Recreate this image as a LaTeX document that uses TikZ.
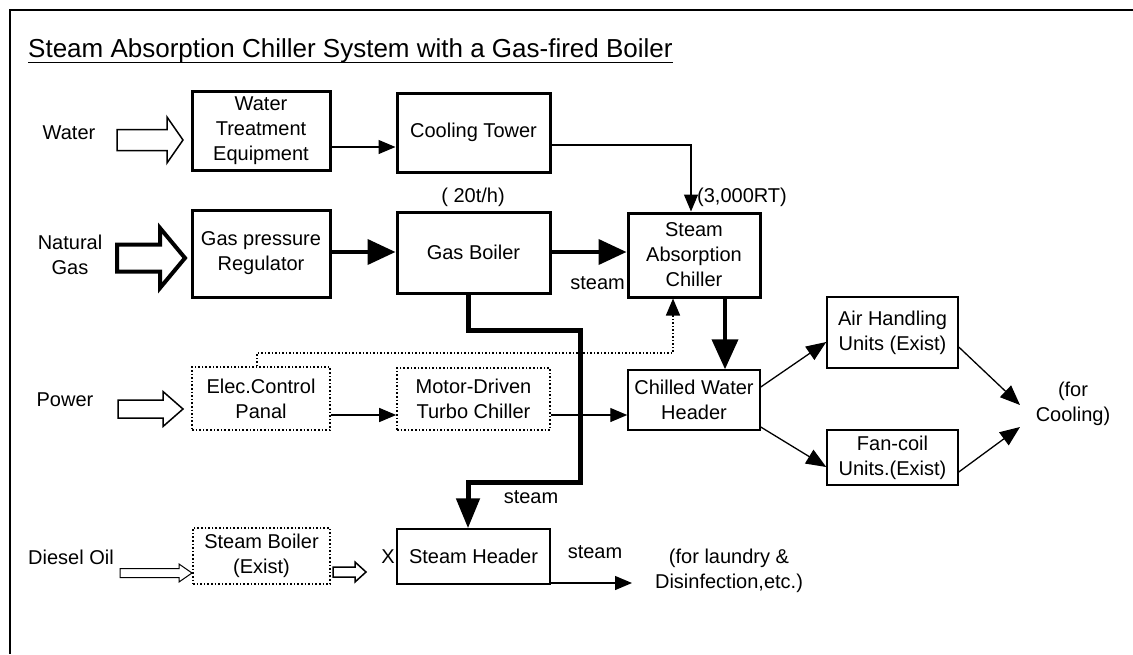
\documentclass[tikz,border=0pt]{standalone}
\usepackage{fontspec}
\setmainfont{Liberation Sans}
\usetikzlibrary{arrows.meta,positioning,calc}

% hollow block arrow: style, x start, x head, x tip, y, shaft half, head half
\newcommand{\fatarrow}[7]{%
  \draw[#1] (#2,{#5-#6}) -- (#3,{#5-#6}) -- (#3,{#5-#7}) -- (#4,#5)
    -- (#3,{#5+#7}) -- (#3,{#5+#6}) -- (#2,{#5+#6}) -- cycle;}

\begin{document}
\begin{tikzpicture}[x=1pt,y=-1pt,
  every node/.style={font=\fontsize{20}{25}\selectfont, inner sep=0pt, align=center},
  boldbox/.style={draw, line width=3pt},
  thinbox/.style={draw, line width=1.5pt},
  dotbox/.style={draw, dotted, line width=1.6pt},
  tarr/.style={line width=1.3pt, -{Triangle[length=17pt,width=14pt]}},
  darr/.style={line width=1.3pt, -{Triangle[length=20pt,width=16pt]}},
  fatarr/.style={line width=4pt, -{Triangle[length=28pt,width=25pt]}}]

		\useasboundingbox (0,0) rectangle (1133,654);

		% frame and title
		\draw [line width=2pt] (1133,10) -- (10,10) -- (10,654);
		\node (title) [anchor=base west, font=\fontsize{26}{30}\selectfont] at (28,57)
			{Steam Absorption Chiller System with a Gas-fired Boiler};
		\draw [line width=1.5pt] (title.south west) -- (title.south east);

		% inputs
		\node (water) at (69,133) {Water};
		\node (ngas) at (70,255) {Natural\\Gas};
		\node (power) at (65,400) {Power};
		\node (diesel) [anchor=base] at (71,564) {Diesel Oil};

		\fatarrow{line width=1.5pt}{117}{167}{183}{140}{10.5}{23}
		\fatarrow{line width=4pt}{117}{160}{185}{258}{13.5}{30}
		\fatarrow{line width=1.5pt}{118}{163}{183}{409}{9}{17.5}
		\fatarrow{line width=1pt}{120}{179}{192}{573}{4.5}{9}
		\fatarrow{line width=1.5pt}{333}{355}{366}{572}{5}{10}

		% boxes
		\node (wt) [boldbox, minimum width=138pt, minimum height=79pt] at (261,131)
			{Water\\Treatment\\Equipment};
		\node (ct) [boldbox, minimum width=153pt, minimum height=79pt] at (473.5,132.5)
			{Cooling Tower};
		\node (gpr) [boldbox, minimum width=138pt, minimum height=87pt] at (261,253.5)
			{Gas pressure\\Regulator};
		\node (gb) [boldbox, minimum width=153pt, minimum height=81pt] at (473.5,252.5)
			{Gas Boiler};
		\node (sac) [boldbox, minimum width=132pt, minimum height=84pt] at (694,255)
			{Steam\\Absorption\\Chiller};
		\node (ecp) [dotbox, minimum width=138pt, minimum height=63pt] at (261,398.5)
			{Elec.Control\\Panal};
		\node (mdt) [dotbox, minimum width=153pt, minimum height=62pt] at (473.5,399)
			{Motor-Driven\\Turbo Chiller};
		\node (cwh) [thinbox, minimum width=132pt, minimum height=60pt] at (694,400)
			{Chilled Water\\Header};
		\node (ahu) [thinbox, minimum width=131pt, minimum height=71pt] at (892.5,332.5)
			{Air Handling\\Units (Exist)};
		\node (fcu) [thinbox, minimum width=131pt, minimum height=55pt] at (892.5,457.5)
			{Fan-coil\\Units.(Exist)};
		\node (sb) [dotbox, minimum width=137pt, minimum height=56pt] at (261.5,556)
			{Steam Boiler\\(Exist)};
		\node (sh) [thinbox, minimum width=153pt, minimum height=55pt] at (473.5,556.5)
			{Steam Header};

		% labels
		\node (cap) at (473,197) {( 20t/h)};
		\node (rt) [anchor=west] at (697,197) {(3,000RT)};
		\node (st1) [anchor=east] at (625,283) {steam};
		\node (st2) at (531,497) {steam};
		\node (st3) at (595,552) {steam};
		\node (x) at (388,557) {X};
		\node (use) at (729,571) {(for laundry \&\\Disinfection,etc.)};
		\node (cool) at (1073,404) {(for\\Cooling)};

		\coordinate (C1) at (1020,405);
		\coordinate (C2) at (1020,427);
		\coordinate (out) at (632,583);

		% connectors
		\draw [tarr] (wt.east |- 0,147) -- (ct.west |- 0,147);
		\draw [tarr] (ct.east |- 0,145) -| (sac.north -| 691,0);
		\draw [fatarr] (gpr.east |- 0,252) -- (gb.west |- 0,252);
		\draw [fatarr] (gb.east |- 0,252) -- (sac.west |- 0,252);
		\draw [line width=5pt, -{Triangle[length=30pt,width=23pt]}]
			(gb.south -| 468,0) |- (580,330) |- (468,482) -- (sh.north -| 468,0);
		\draw [dotted, line width=1.5pt, -{Triangle[length=17pt,width=14pt]}]
			(ecp.north -| 257,0) |- (673,353) -- (sac.south -| 673,0);
		\draw [tarr] (ecp.east |- 0,415) -- (mdt.west |- 0,415);
		\draw [tarr] (mdt.east |- 0,415) -- (cwh.west |- 0,415);
		\draw [line width=4pt, -{Triangle[length=30pt,width=26pt]}]
			(sac.south -| 725,0) -- (cwh.north -| 725,0);
		\draw [darr] (cwh.east |- 0,387) -- (ahu.west |- 0,342);
		\draw [darr] (cwh.east |- 0,427) -- (fcu.west |- 0,467);
		\draw [darr] (ahu.east |- 0,347) -- (C1);
		\draw [darr] (fcu.east |- 0,472) -- (C2);
		\draw [tarr] (sh.east |- 0,583) -- (out);

\end{tikzpicture}
\end{document}
